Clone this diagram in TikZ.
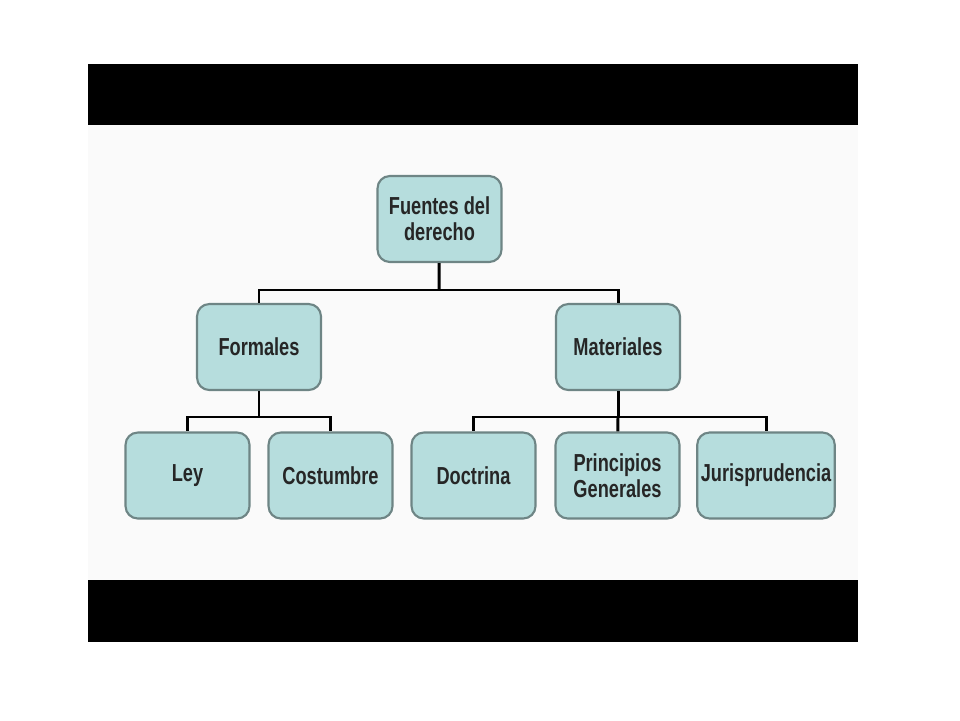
\documentclass[tikz,border=0pt]{standalone}
\usepackage{fontspec}
\newfontfamily\boxfont{Liberation Sans}[FakeStretch=0.74]
\definecolor{boxfill}{HTML}{B6DDDD}
\definecolor{boxline}{HTML}{6E8585}
\definecolor{inner}{HTML}{FAFAFA}
\begin{document}
\begin{tikzpicture}[x=0.02cm, y=-0.02cm,
  box/.style={draw=boxline, line width=1.2pt, fill=boxfill, rounded corners=7pt,
    minimum width=2.48cm, minimum height=1.72cm, align=center,
    font=\boxfont\bfseries\fontsize{14}{15}\selectfont, text=black!85},
  link/.style={line width=1.7pt, black}]

\useasboundingbox (0,0) rectangle (960,720);
\fill[white] (0,0) rectangle (960,720);
\fill[inner] (88,125) rectangle (858,580);
\fill[black] (88,64) rectangle (858,125);
\fill[black] (88,580) rectangle (858,642);


\coordinate (top) at (439,290);
\coordinate (left) at (259,417);
\coordinate (right) at (618,417);


\node [box] (root) at (439.5,219) {Fuentes del\\derecho};
\node [box] (formales) at (259,347) {Formales};
\node [box] (materiales) at (618,347) {Materiales};

\node [box] (ley) at (187.5,475.5) {Ley};
\node [box] (costumbre) at (330.5,475.5) {Costumbre};
\node [box] (doctrina) at (473.5,475.5) {Doctrina};
\node [box] (principios) at (617.5,475.5) {Principios\\Generales};
\node [box, minimum width=2.66cm, inner xsep=2pt] (juris) at (766,475.5) {Jurisprudencia};


\draw [link] (root) -- (top);
\draw [link] (top) -| (formales);
\draw [link] (top) -| (materiales);

\draw [link] (formales) -- (left);
\draw [link] (left) -| (ley);
\draw [link] (left) -| (costumbre);

\draw [link] (materiales) -- (right);
\draw [link] (right) -| (doctrina);
\draw [link] (right) -- (principios);
\draw [link] (right) -| (juris);

\end{tikzpicture}
\end{document}
